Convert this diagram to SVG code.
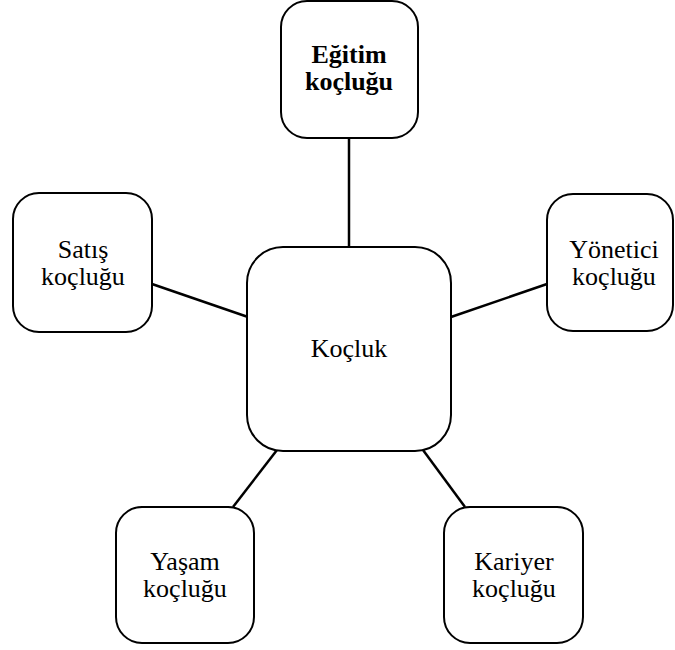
<svg xmlns="http://www.w3.org/2000/svg" width="675" height="650" viewBox="0 0 675 650">
<style>
.box{fill:#fff;stroke:#000;stroke-width:2}
.ln{stroke:#000;stroke-width:2.5;fill:none}
</style>
<rect width="675" height="650" fill="#fff"/>
<g id="connectors">
<line class="ln" x1="349" y1="138" x2="349" y2="247"/>
<line class="ln" x1="152" y1="284" x2="248" y2="317"/>
<line class="ln" x1="451" y1="317" x2="547" y2="284"/>
<line class="ln" x1="233" y1="507" x2="277" y2="450"/>
<line class="ln" x1="465" y1="507" x2="423" y2="450"/>
</g>
<g font-family="'Liberation Serif', 'Times New Roman', 'DejaVu Serif', serif" font-size="26" fill="#000" text-anchor="middle">
<g id="kocluk">
<rect class="box" x="247" y="247" width="204" height="204" rx="36"/>
<text x="349" y="357">Koçluk</text>
</g>
<g id="egitim">
<rect class="box" x="281" y="1" width="137" height="137" rx="26"/>
<text font-weight="bold" x="349" y="63">Eğitim</text>
<text font-weight="bold" x="349" y="90">koçluğu</text>
</g>
<g id="satis">
<rect class="box" x="13" y="193" width="139" height="139" rx="26"/>
<text x="83" y="258">Satış</text>
<text x="83" y="285">koçluğu</text>
</g>
<g id="yonetici">
<rect class="box" x="547" y="194" width="126" height="137" rx="26"/>
<text x="614" y="258">Yönetici</text>
<text x="614" y="285">koçluğu</text>
</g>
<g id="yasam">
<rect class="box" x="116" y="507" width="138" height="136" rx="26"/>
<text x="185" y="570">Yaşam</text>
<text x="185" y="597">koçluğu</text>
</g>
<g id="kariyer">
<rect class="box" x="444" y="507" width="139" height="136" rx="26"/>
<text x="514" y="570">Kariyer</text>
<text x="514" y="597">koçluğu</text>
</g>
</g>
</svg>
